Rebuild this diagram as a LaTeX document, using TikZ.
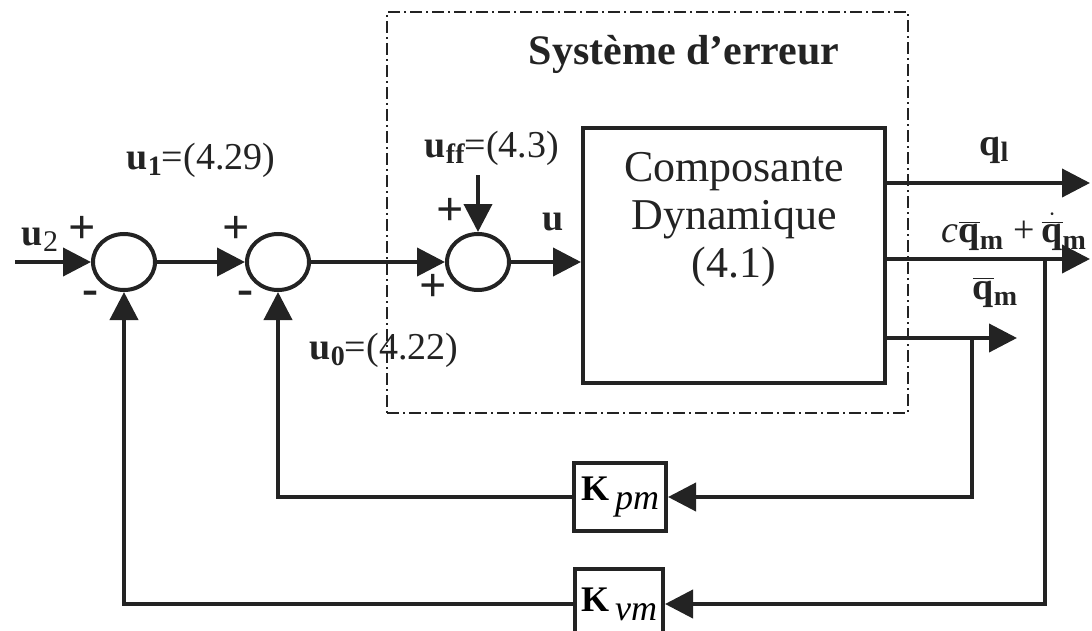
\documentclass[tikz,border=0pt]{standalone}
\usepackage{fontspec}
\setmainfont{Liberation Serif}
\usetikzlibrary{arrows.meta,positioning,shapes.geometric}
\definecolor{ink}{RGB}{35,35,35}
\newcommand{\bsub}[2]{\textbf{#1}\raisebox{-0.35ex}{\fontsize{14}{14}\selectfont\textbf{#2}}}
\newcommand{\qbar}{$\overline{\textbf{q}}$}
\tikzset{
  sum/.style={ellipse, draw=ink, line width=2pt, minimum width=31pt, minimum height=28pt, inner sep=0pt},
  block/.style={draw=ink, line width=2pt, align=center, inner sep=0pt},
  gain/.style={block, minimum width=46pt, minimum height=34pt, font=\fontsize{18}{18}\selectfont},
  errbox/.style={draw=ink, line width=0.6pt, dash pattern=on 6pt off 2pt on 1pt off 2pt},
  line/.style={-{Triangle[length=14pt,width=14pt]}, line width=2pt, draw=ink},
  lbl/.style={font=\fontsize{19}{22}\selectfont, text=ink, inner sep=0pt},
  sign/.style={font=\bfseries\fontsize{24}{24}\selectfont, text=ink, inner sep=0pt}
}
\begin{document}
\begin{tikzpicture}[x=0.5pt, y=-0.5pt]
  \useasboundingbox (0,0) rectangle (1092,631);

  % error system frame
  \node[errbox, minimum width=260.5pt, minimum height=200.5pt, inner sep=0pt] (err) at (647.5,212.5) {};
  \node[lbl, font=\bfseries\fontsize{21}{24}\selectfont] (title) at (684,54) {Système d’erreur};

  % summing junctions
  \node[sum] (s1) at (124,262) {};
  \node[sum] (s2) at (278,262) {};
  \node[sum] (s3) at (478,262) {};

  % plant
  \node[block, minimum width=151pt, minimum height=127.5pt] (dyn) at (734,255.5) {};
  \node[lbl, align=center, font=\fontsize{22}{24}\selectfont] (dyntxt) at (734,220) {Composante\\Dynamique\\(4.1)};

  % gains
  \node[gain] (kpm) at (620,497) {\textbf{K}\raisebox{-0.55ex}{\,\textit{pm}}};
  \node[gain, minimum width=44pt, minimum height=35pt] (kvm) at (619,604) {\textbf{K}\raisebox{-0.55ex}{\,\textit{vm}}};

  % free ends
  \coordinate (in) at (15,262);
  \coordinate (ffin) at (478,175);
  \coordinate (q1end) at (1090,183);
  \coordinate (qdend) at (1090,259);
  \coordinate (qmend) at (1017,338);
  \coordinate (tapm) at (972,338);
  \coordinate (tapv) at (1045,259);

  % forward path
  \draw[line] (in) -- (s1.west);
  \draw[line] (s1.east) -- (s2.west);
  \draw[line] (s2.east) -- (s3.west);
  \draw[line] (ffin) -- (s3.north);
  \draw[line] (s3.east) -- (s3.east -| dyn.west);

  % outputs
  \draw[line] (dyn.east |- q1end) -- (q1end);
  \draw[line] (dyn.east |- qdend) -- (qdend);
  \draw[line] (dyn.east |- qmend) -- (qmend);

  % feedback
  \draw[line] (tapm) |- (kpm.east);
  \draw[line] (kpm.west) -| (s2.south);
  \draw[line] (tapv) |- (kvm.east);
  \draw[line] (kvm.west) -| (s1.south);

  % labels
  \node[lbl] (lu2) at (40,240) {\textbf{u}\raisebox{-0.35ex}{\fontsize{15}{15}\selectfont 2}};
  \node[lbl] (lu1) at (201,160) {\bsub{u}{1}=(4.29)};
  \node[lbl] (luff) at (492,148) {\bsub{u}{ff}=(4.3)};
  \node[lbl] (lu0) at (384,350) {\bsub{u}{0}=(4.22)};
  \node[lbl] (lu) at (553,222) {\textbf{u}};
  \node[lbl] (lql) at (994,150) {\bsub{q}{l}};
  \node[lbl] (lqd) at (1014,232) {\textit{c}\qbar\raisebox{-0.35ex}{\fontsize{14}{14}\selectfont\textbf{m}}\;+\,$\dot{\overline{\textbf{q}}}$\raisebox{-0.35ex}{\fontsize{14}{14}\selectfont\textbf{m}}};
  \node[lbl] (lqm) at (995,292) {\qbar\raisebox{-0.35ex}{\fontsize{14}{14}\selectfont\textbf{m}}};

  % signs
  \node[sign] (p1) at (82,230) {+};
  \node[sign] (m1) at (90,298) {-};
  \node[sign] (p2) at (236,230) {+};
  \node[sign] (m2) at (245,298) {-};
  \node[sign] (p3) at (450,212) {+};
  \node[sign] (p4) at (433,288) {+};
\end{tikzpicture}
\end{document}
